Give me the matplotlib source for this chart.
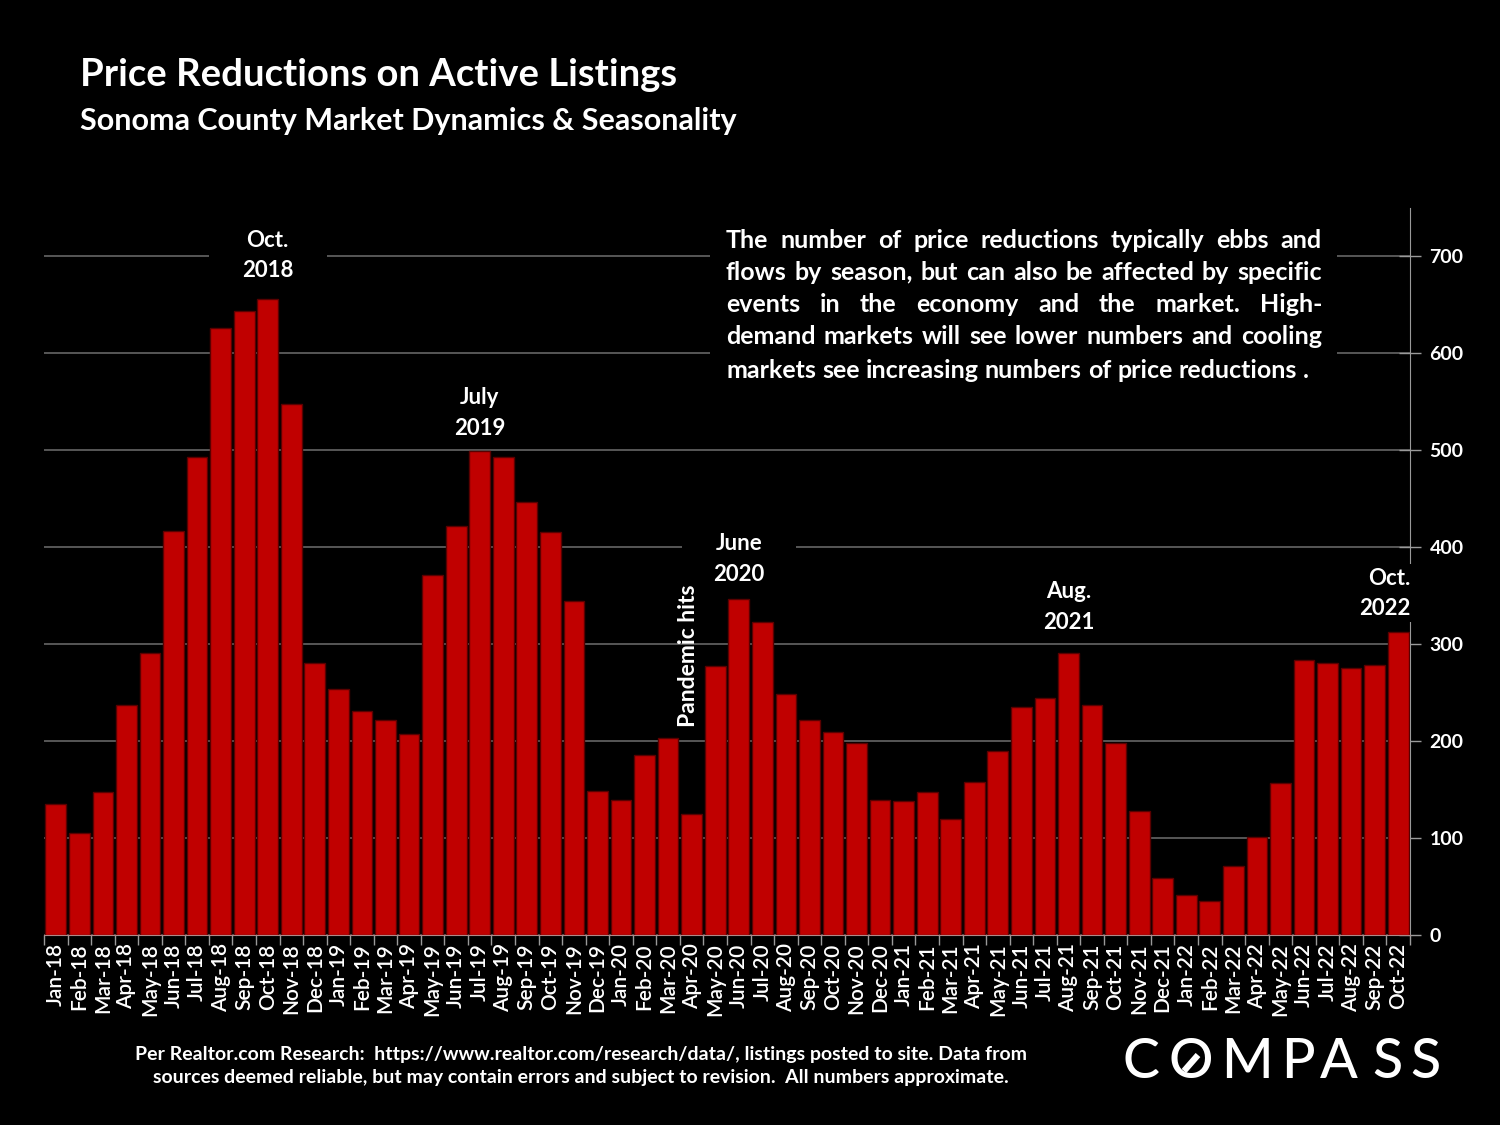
import matplotlib
matplotlib.use("Agg")
import matplotlib.pyplot as plt
from matplotlib.patches import Rectangle
from matplotlib.lines import Line2D
import numpy as np

months = ["Jan-18","Feb-18","Mar-18","Apr-18","May-18","Jun-18","Jul-18","Aug-18","Sep-18","Oct-18","Nov-18","Dec-18",
          "Jan-19","Feb-19","Mar-19","Apr-19","May-19","Jun-19","Jul-19","Aug-19","Sep-19","Oct-19","Nov-19","Dec-19",
          "Jan-20","Feb-20","Mar-20","Apr-20","May-20","Jun-20","Jul-20","Aug-20","Sep-20","Oct-20","Nov-20","Dec-20",
          "Jan-21","Feb-21","Mar-21","Apr-21","May-21","Jun-21","Jul-21","Aug-21","Sep-21","Oct-21","Nov-21","Dec-21",
          "Jan-22","Feb-22","Mar-22","Apr-22","May-22","Jun-22","Jul-22","Aug-22","Sep-22","Oct-22"]
reductions = [135, 105, 148, 237, 291, 417, 493, 626, 644, 656, 548, 281,
              254, 231, 222, 207, 371, 422, 499, 493, 447, 416, 345, 149,
              139, 186, 203, 125, 277, 347, 323, 249, 222, 209, 198, 139,
              138, 148, 120, 158, 190, 235, 245, 291, 237, 198, 128, 59,
              41, 35, 71, 101, 157, 284, 281, 275, 279, 313]
yticks = [0, 100, 200, 300, 400, 500, 600, 700]

peak_months = ["Oct-18", "Jul-19", "Jun-20", "Aug-21", "Oct-22"]
peak_texts = ["Oct.\n2018", "July\n2019", "June\n2020", "Aug.\n2021", "Oct.\n2022"]
pandemic_month = "Apr-20"

title = "Price Reductions on Active Listings"
subtitle = "Sonoma County Market Dynamics & Seasonality"
note_lines = ["The number of price reductions typically ebbs and",
              "flows by season, but can also be affected by specific",
              "events in the economy and the market. High-",
              "demand markets will see lower numbers and cooling",
              "markets see increasing numbers of price reductions ."]
footer = ("Per Realtor.com Research:  https://www.realtor.com/research/data/, listings posted to site. Data from\n"
          "sources deemed reliable, but may contain errors and subject to revision.  All numbers approximate.")
logo = "COMPASS"

# styling for the peak labels (offset in points, alignment, box padding)
peak_offsets = [13, 9, 10, 14.5, 9]
peak_ha = ["center", "center", "center", "center", "right"]
peak_pad = [1.5, 0.3, 1.4, 0.3, 0.15]

FONT = "Lato"
plt.rcParams['font.family'] = [FONT, 'DejaVu Sans']

W, H = 1500, 1125
fig = plt.figure(figsize=(15, 11.25), dpi=100, facecolor="black")
ax = fig.add_axes([44 / W, 1 - 935 / H, (1410 - 44) / W, (935 - 208) / H])
ax.set_facecolor("black")
ax.set_axisbelow(True)

x = np.arange(len(months))
ax.bar(x, reductions, width=0.88, color="#C00000", edgecolor="#5a0000", linewidth=1.0, zorder=3)
ax.set_xlim(-0.5, len(months) - 0.5)
ax.set_ylim(0, 750)

ax.yaxis.tick_right()
ax.set_yticks(yticks)
ax.set_yticklabels([str(v) for v in yticks], color="white", fontsize=14, fontweight="bold")
ax.tick_params(axis="y", direction="inout", length=16, color="#9a9a9a", width=1, pad=6)
ax.grid(axis="y", color="#6e6e6e", linewidth=1.1)

ax.set_xticks(x)
ax.set_xticklabels(months, rotation=90, color="white", fontsize=15, fontweight="semibold")
ax.tick_params(axis="x", length=0, pad=6)
ax.set_xticks(np.arange(-0.5, len(months) + 0.5, 1), minor=True)
ax.tick_params(axis="x", which="minor", length=7, color="#9a9a9a", width=1)

for s in ["left", "top"]:
    ax.spines[s].set_visible(False)
ax.spines["right"].set_color("#9a9a9a")
ax.spines["right"].set_zorder(1)
ax.spines["bottom"].set_color("#b08888")
ax.spines["bottom"].set_zorder(4)

# peak annotations
for m, lab, off, ha, pad in zip(peak_months, peak_texts, peak_offsets, peak_ha, peak_pad):
    i = months.index(m)
    xa = i if ha == "center" else len(months) - 0.5
    ax.annotate(lab, xy=(xa, reductions[i]), xytext=(0, off), textcoords="offset points",
                ha=ha, va="bottom", color="white", fontsize=16, fontweight="bold",
                linespacing=1.56, multialignment=ha, zorder=2,
                bbox=dict(facecolor="black", edgecolor="none", boxstyle=f"square,pad={pad}"))

ip = months.index(pandemic_month)
ax.text(ip - 0.15, reductions[ip] + 90, "Pandemic hits", rotation=90, ha="center", va="bottom",
        color="white", fontsize=16.5, fontweight="bold", zorder=5)

# titles
fig.text(80 / W, 1 - 75 / H, title, color="white", fontsize=27.5, fontweight="bold", va="center", ha="left")
fig.text(80 / W, 1 - 121 / H, subtitle, color="white", fontsize=22, fontweight="bold", va="center", ha="left")

# justified note with black backing
fig.patches.append(Rectangle((710 / W, 1 - 398 / H), (1337 - 710) / W, (398 - 215) / H,
                             transform=fig.transFigure, facecolor="black", edgecolor="none", zorder=10))
renderer = fig.canvas.get_renderer()
left_px, right_px = 726, 1322
line_y = [240, 272, 305, 337, 370]
note_fs = 18
sp = fig.text(0, 0, "a b", fontsize=note_fs, fontweight="bold")
sp2 = fig.text(0, 0, "ab", fontsize=note_fs, fontweight="bold")
space_w = sp.get_window_extent(renderer).width - sp2.get_window_extent(renderer).width
sp.remove(); sp2.remove()
for li, (line, yy) in enumerate(zip(note_lines, line_y)):
    words = line.split(" ")
    texts = [fig.text(0, 1 - yy / H, w, color="white", fontsize=note_fs, fontweight="bold",
                      va="center", ha="left", zorder=11) for w in words]
    widths = [t.get_window_extent(renderer).width for t in texts]
    if li == len(note_lines) - 1:
        gap = space_w
    else:
        gap = (right_px - left_px - sum(widths)) / (len(words) - 1)
    cur = left_px
    for t, wd in zip(texts, widths):
        t.set_x(cur / W)
        cur += wd + gap

# footer
fig.text(581 / W, 1 - 1066 / H, footer, color="white", fontsize=14, fontweight="bold",
         ha="center", va="center", linespacing=1.49)

# logo
logo_centers = [1141, 1191, 1247, 1298, 1339, 1387, 1425]
for ch, cx in zip(logo, logo_centers):
    fig.text(cx / W, 1 - 1063 / H, ch, color="white", fontsize=40, ha="center", va="center",
             fontweight="medium")
fig.add_artist(Line2D([1184 / W, 1198 / W], [1 - 1071 / H, 1 - 1055 / H], color="white",
                      linewidth=4.5, solid_capstyle="butt", transform=fig.transFigure))

fig.savefig("out.png", dpi=100, facecolor="black")
